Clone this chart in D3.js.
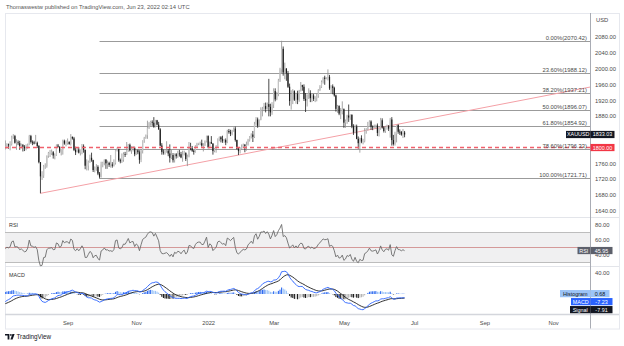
<!DOCTYPE html>
<html>
<head>
<meta charset="utf-8">
<script src="https://cdn.jsdelivr.net/npm/d3@7"></script>
<style>
  body { margin: 0; background: #fff; }
  svg { display: block; }
  text { font-family: "Liberation Sans", Arial, sans-serif; }
</style>
</head>
<body>
<svg id="chart" width="624" height="346"></svg>
<script>
// XAUUSD daily, one row per trading week (Mon..Fri). Rows start on this Monday.
const firstMonday = "2021-05-03";

// Daily closes (first rows feed the indicators only)
const closeWeeks = [
  [1792,1779,1784,1815,1831], // May 3 2021
  [1836,1836,1815,1826,1843],
  [1867,1869,1881,1877,1881],
  [1882,1898,1896,1896,1903],
  [1906,1903,1908,1871,1891],
  [1899,1893,1888,1899,1877],
  [1866,1859,1812,1774,1764],
  [1783,1778,1779,1776,1781],
  [1780,1761,1770,1777,1787],
  [1792,1796,1803,1803,1808], // Jul 5
  [1806,1809,1826,1829,1812],
  [1813,1811,1804,1806,1802],
  [1798,1799,1806,1829,1814],
  [1813,1810,1812,1804,1763], // Aug 2
  [1727,1729,1752,1753,1779],
  [1786,1786,1788,1780,1781],
  [1805,1802,1790,1794,1817],
  [1810,1814,1814,1809,1827], // Aug 30
  [1823,1794,1788,1795,1787],
  [1794,1804,1794,1754,1754],
  [1764,1774,1768,1743,1750],
  [1751,1734,1726,1757,1761], // Sep 27
  [1769,1760,1761,1756,1757],
  [1754,1760,1793,1796,1768],
  [1765,1769,1783,1782,1793],
  [1807,1793,1798,1799,1783], // Oct 25
  [1793,1788,1769,1792,1818],
  [1825,1831,1849,1862,1865],
  [1863,1853,1869,1858,1846],
  [1805,1789,1788,1790,1792], // Nov 22
  [1785,1774,1781,1768,1783],
  [1778,1785,1783,1775,1782],
  [1786,1771,1777,1799,1798],
  [1792,1789,1802,1809,1811],
  [1811,1805,1805,1815,1829], // Dec 27
  [1801,1814,1810,1791,1797], // Jan 3 2022
  [1802,1822,1826,1821,1817],
  [1819,1813,1842,1839,1835],
  [1842,1848,1819,1797,1791],
  [1797,1801,1807,1804,1807], // Jan 31
  [1820,1826,1833,1827,1859],
  [1871,1855,1870,1898,1898],
  [1905,1898,1910,1903,1889],
  [1909,1943,1922,1936,1970], // Feb 28
  [1998,2050,1990,2000,1988],
  [1954,1918,1929,1943,1921],
  [1936,1921,1944,1958,1954],
  [1923,1919,1933,1937,1925], // Mar 28
  [1932,1923,1925,1931,1946],
  [1954,1966,1977,1974,1975],
  [1979,1950,1955,1951,1932],
  [1898,1905,1886,1888,1897], // Apr 25
  [1863,1868,1881,1876,1883],
  [1854,1838,1853,1822,1811],
  [1824,1815,1816,1842,1846],
  [1854,1866,1853,1851,1853],
  [1856,1837,1848,1869,1851], // May 30
  [1842,1852,1854,1848,1871],
  [1819,1809,1835,1857,1840],
  [1839,1833,1838,1833.03,null] // Jun 20
];

// Daily highs / lows of the drawn candles, rows start on this Monday
const candleMonday = "2021-07-05";
const highWeeks = [
  [null,null,null,1818,1811],
  [1810,1816,1830,1834,1832],
  [1821,1818,1817,1810,1809],
  [1806,1808,1810,1832,1832],
  [1818,1817,1832,1815,1806],
  [1763,1740,1756,1760,1780],
  [1789,1794,1795,1791,1785],
  [1808,1809,1803,1796,1820],
  [1820,1818,1823,1816,1834],
  [1828,1827,1802,1800,1801],
  [1795,1809,1808,1795,1770],
  [1767,1782,1787,1769,1752],
  [1758,1755,1738,1764,1764],
  [1770,1771,1767,1764,1781],
  [1763,1770,1796,1800,1797],
  [1772,1785,1788,1789,1814],
  [1809,1810,1803,1804,1802],
  [1796,1795,1793,1796,1818],
  [1827,1833,1868,1865,1868],
  [1869,1877,1870,1870,1865],
  [1849,1811,1795,1794,1816],
  [1796,1808,1794,1786,1785],
  [1786,1792,1794,1789,1792],
  [1792,1788,1782,1814,1812],
  [1804,1794,1806,1812,1812],
  [1815,1820,1811,1818,1830],
  [1831,1815,1829,1811,1799],
  [1806,1823,1828,1829,1830],
  [1822,1823,1845,1847,1845],
  [1845,1851,1853,1820,1800],
  [1801,1808,1810,1809,1815],
  [1822,1829,1836,1842,1865],
  [1877,1876,1871,1902,1903],
  [1913,1914,1914,1974,1911],
  [1915,1950,1950,1941,1974],
  [2002,2070.42,2056,2015,2001],
  [1994,1962,1945,1948,1945],
  [1939,1944,1946,1966,1959],
  [1960,1938,1935,1950,1945],
  [1937,1936,1930,1937,1948],
  [1958,1970,1978,1982,1978],
  [1998,1984,1958,1960,1954],
  [1934,1908,1907,1900,1917],
  [1899,1871,1883,1909,1884],
  [1884,1859,1858,1858,1828],
  [1825,1831,1822,1849,1849],
  [1865,1869,1869,1856,1858],
  [1858,1861,1850,1875,1874],
  [1854,1855,1858,1857,1875],
  [1877,1832,1840,1857,1859],
  [1846,1842,1847,1842,null]
];
const lowWeeks = [
  [null,null,null,1795,1797],
  [1797,1793,1805,1822,1810],
  [1794,1806,1794,1798,1790],
  [1791,1793,1797,1806,1810],
  [1806,1808,1809,1799,1760],
  [1684,1718,1723,1746,1749],
  [1774,1776,1781,1772,1770],
  [1779,1800,1786,1780,1782],
  [1807,1803,1807,1807,1805],
  [1820,1791,1781,1788,1785],
  [1780,1783,1787,1745,1742],
  [1742,1761,1764,1738,1737],
  [1741,1730,1721.71,1724,1750],
  [1755,1746,1746,1751,1749],
  [1749,1752,1757,1790,1764],
  [1760,1761,1764,1776,1781],
  [1789,1790,1784,1790,1778],
  [1781,1783,1759,1763,1785],
  [1812,1822,1822,1847,1855],
  [1855,1850,1851,1856,1845],
  [1803,1782,1782,1782,1787],
  [1778,1762,1771,1762,1762],
  [1772,1774,1777,1773,1764],
  [1780,1766,1753,1775,1793],
  [1789,1782,1787,1801,1806],
  [1806,1802,1790,1804,1813],
  [1798,1798,1809,1782,1788],
  [1787,1800,1816,1813,1812],
  [1812,1806,1811,1835,1829],
  [1831,1840,1815,1795,1781],
  [1785,1796,1799,1788,1792],
  [1805,1815,1823,1814,1824],
  [1855,1850,1852,1869,1879],
  [1892,1889,1896,1879,1879],
  [1883,1900,1917,1920,1930],
  [1966,1989,1982,1973,1969],
  [1951,1906,1896,1910,1918],
  [1911,1910,1916,1942,1944],
  [1918,1890,1904,1923,1915],
  [1915,1918,1915,1917,1926],
  [1943,1951,1962,1959,1973],
  [1970,1946,1938,1935,1929],
  [1891,1888,1882,1872,1884],
  [1850,1850,1860,1865,1870],
  [1849,1832,1836,1821,1797],
  [1787,1811,1808,1813,1835],
  [1843,1852,1845,1844,1849],
  [1849,1829,1828,1845,1848],
  [1838,1837,1845,1842,1825],
  [1805,1805,1805,1813,1835],
  [1832,1830,1824,1826,null]
];

// Fibonacci retracement (Sep 29 2021 low -> Mar 8 2022 high)
const fibStartDate = "2021-09-29";
const fibPercents = ["0.00%", "23.60%", "38.20%", "50.00%", "61.80%", "78.60%", "100.00%"];
const fibPrices = [2070.42, 1988.12, 1937.21, 1896.07, 1854.92, 1796.33, 1721.71];

// Rising trendline through two lows, and the 1800 level
const trendDates = ["2021-08-09", "2022-01-28"];
const trendPrices = [1684, 1781];
const supportLevel = 1800;

// Axis ticks
const priceTicks = [2080, 2040, 2000, 1960, 1920, 1880, 1840, 1800, 1760, 1720, 1680, 1640];
const rsiTicks = [80, 60, 40];
const macdTicks = [40];
const monthStarts = ["2021-09", "2021-11", "2022-01", "2022-03", "2022-05", "2022-07", "2022-09", "2022-11"];
const monthLabels = ["Sep", "Nov", "2022", "Mar", "May", "Jul", "Sep", "Nov"];

// Last values shown on the scale
const lastPrice = 1833.03;
const lastRsi = 45.95;
const lastHist = 0.68, lastMacd = -7.23, lastSignal = -7.91;
const firstDrawn = "2021-07-08";

// ---------- helpers ----------
const parse = d3.timeParse("%Y-%m-%d");
const base = parse(firstMonday);
function barIndex(date) {
  const t = d3.timeDay.count(base, date);
  return Math.floor(t / 7) * 5 + (t % 7);
}
function firstWeekday(ym) {
  const d = parse(ym + "-01");
  while (d.getDay() === 0 || d.getDay() === 6) d.setDate(d.getDate() + 1);
  return d;
}

// flatten into bars
const bars = [];
closeWeeks.forEach((wk, w) => wk.forEach((c, d) => {
  if (c != null) bars.push({ i: w * 5 + d, c });
}));
const candleOffset = barIndex(parse(candleMonday));
highWeeks.forEach((wk, w) => wk.forEach((h, d) => {
  const i = candleOffset + w * 5 + d;
  if (h != null && bars[i]) { bars[i].h = h; bars[i].l = lowWeeks[w][d]; }
}));
bars.forEach((b, k) => { b.o = k > 0 ? bars[k - 1].c : b.c; });
const closes = bars.map(b => b.c);

// RSI 14 (Wilder)
const rsiVals = new Array(closes.length).fill(null);
{
  const n = 14; let up = 0, dn = 0;
  for (let k = 1; k <= n; k++) { const ch = closes[k] - closes[k - 1]; up += Math.max(ch, 0); dn += Math.max(-ch, 0); }
  up /= n; dn /= n;
  rsiVals[n] = 100 - 100 / (1 + up / dn);
  for (let k = n + 1; k < closes.length; k++) {
    const ch = closes[k] - closes[k - 1];
    up = (up * (n - 1) + Math.max(ch, 0)) / n;
    dn = (dn * (n - 1) + Math.max(-ch, 0)) / n;
    rsiVals[k] = dn === 0 ? 100 : 100 - 100 / (1 + up / dn);
  }
}
// MACD 12/26/9
function ema(arr, n) {
  const a = 2 / (n + 1), out = [];
  arr.forEach((v, k) => out.push(k === 0 ? v : a * v + (1 - a) * out[k - 1]));
  return out;
}
const e12 = ema(closes, 12), e26 = ema(closes, 26);
const macdVals = e12.map((v, k) => v - e26[k]);
const sigVals = ema(macdVals, 9);
const histVals = macdVals.map((v, k) => v - sigVals[k]);

// ---------- layout ----------
const L = 5, R = 590, RE = 619;
const mainTop = 13, mainBot = 217.5, rsiTop = 217.5, rsiBot = 266.5, macdTop = 266.5, macdBot = 314.5, axisBot = 328.5;

const iSep = barIndex(firstWeekday("2021-09"));
const iNov = barIndex(firstWeekday("2022-11"));
const x = d3.scaleLinear().domain([iSep, iNov]).range([67.6, 553.1]);
const y = d3.scaleLinear().domain([2080, 1640]).range([37, 210.7]);
const yR = d3.scaleLinear().domain([80, 40]).range([225, 255]);
const yM = d3.scaleLinear().domain([40, 0]).range([273, 294]);

const startIdx = barIndex(parse(firstDrawn));
const shown = bars.filter(b => b.i >= startIdx);

const svg = d3.select("#chart");
const defs = svg.append("defs");
function clip(id, y0, y1) {
  defs.append("clipPath").attr("id", id).append("rect").attr("x", L).attr("y", y0).attr("width", R - L).attr("height", y1 - y0);
  return "url(#" + id + ")";
}
const clipMain = clip("cm", mainTop, mainBot), clipRsi = clip("cr", rsiTop, rsiBot), clipMacd = clip("cx", macdTop, macdBot);

// header
svg.append("text").attr("x", 6).attr("y", 9.3).attr("font-size", 5.8).attr("fill", "#555")
  .text("Thomaswestw published on TradingView.com, Jun 23, 2022 02:14 UTC");

// frame and pane separators
svg.append("rect").attr("x", L + 0.5).attr("y", mainTop + 0.5).attr("width", RE - L).attr("height", axisBot - mainTop)
  .attr("fill", "none").attr("stroke", "#e6e8ee");
[rsiTop, macdTop].forEach(v => svg.append("line").attr("x1", L).attr("x2", RE).attr("y1", v).attr("y2", v).attr("stroke", "#e3e5ea"));
svg.append("line").attr("x1", L).attr("x2", RE).attr("y1", macdBot).attr("y2", macdBot).attr("stroke", "#d4d6dc").attr("stroke-width", 1.5);
svg.append("line").attr("x1", R + 0.5).attr("x2", R + 0.5).attr("y1", mainTop).attr("y2", axisBot).attr("stroke", "#a9acb4");

// ---------- main pane ----------
const gMain = svg.append("g").attr("clip-path", clipMain);

// fib levels
const fibX0 = x(barIndex(parse(fibStartDate)));
gMain.selectAll("line.fib").data(fibPrices).join("line").attr("class", "fib")
  .attr("x1", fibX0).attr("x2", R).attr("y1", d => Math.round(y(d)) + 0.5).attr("y2", d => Math.round(y(d)) + 0.5)
  .attr("stroke", "#9b9b9b").attr("stroke-width", 1);

// trendline extended to the price scale
{
  const i0 = barIndex(parse(trendDates[0])), i1 = barIndex(parse(trendDates[1]));
  const slope = (trendPrices[1] - trendPrices[0]) / (i1 - i0);
  const iEnd = x.invert(R);
  gMain.append("line").attr("x1", x(i0)).attr("y1", y(trendPrices[0]))
    .attr("x2", x(iEnd)).attr("y2", y(trendPrices[0] + slope * (iEnd - i0)))
    .attr("stroke", "#f4a0a6").attr("stroke-width", 1);
}

// candles
const up = b => b.c >= b.o;
const gC = gMain.append("g");
gC.selectAll("line").data(shown.filter(b => b.h != null)).join("line")
  .attr("x1", b => x(b.i)).attr("x2", b => x(b.i))
  .attr("y1", b => y(b.h)).attr("y2", b => y(b.l))
  .attr("stroke", b => up(b) ? "#8e8e8e" : "#1c1c1c").attr("stroke-width", 0.8);
gC.selectAll("rect").data(shown.filter(b => b.h != null)).join("rect")
  .attr("x", b => x(b.i) - 0.6).attr("width", 1.2)
  .attr("y", b => y(Math.max(b.o, b.c)))
  .attr("height", b => Math.max(0.7, Math.abs(y(b.o) - y(b.c))))
  .attr("fill", b => up(b) ? "#c4c4c4" : "#1c1c1c");

// 1800 level
gMain.append("line").attr("x1", L).attr("x2", R).attr("y1", y(supportLevel)).attr("y2", y(supportLevel))
  .attr("stroke", "#f0606c").attr("stroke-width", 1.6).attr("stroke-dasharray", "4,3");

// fib labels
svg.selectAll("text.fibl").data(fibPrices).join("text").attr("class", "fibl")
  .attr("x", 587).attr("y", d => Math.round(y(d)) - 1.2).attr("text-anchor", "end")
  .attr("font-size", 5.8).attr("fill", "#4a4a4a")
  .text((d, k) => fibPercents[k] + "(" + d.toFixed(2) + ")");

// price scale: labels hidden where a value badge sits on top of them
const badgePrices = [lastPrice, supportLevel];
const freeTicks = priceTicks.filter(t => badgePrices.every(p => Math.abs(y(t) - y(p)) > 7));
const axP = svg.append("g").attr("transform", `translate(${R},0)`)
  .call(d3.axisRight(y).tickValues(freeTicks).tickSize(0).tickPadding(5).tickFormat(d3.format(".2f")));
axP.select(".domain").remove();
axP.selectAll("text").attr("font-size", 5.8).attr("fill", "#4a4a4a").attr("font-family", "Liberation Sans, Arial, sans-serif");
svg.append("text").attr("x", 596).attr("y", 21.5).attr("font-size", 5.8).attr("fill", "#4a4a4a").text("USD");

// scale badges
function badge(x0, w, yc, fill, txt, col) {
  svg.append("rect").attr("x", x0).attr("y", yc - 3.6).attr("width", w).attr("height", 7.2).attr("fill", fill);
  svg.append("text").attr("x", x0 + w / 2).attr("y", yc + 2).attr("text-anchor", "middle")
    .attr("font-size", 5.4).attr("fill", col).text(txt);
}
badge(566, 24.5, y(lastPrice), "#131722", "XAUUSD", "#fff");
badge(590.5, 24, y(lastPrice), "#131722", lastPrice.toFixed(2), "#fff");
badge(590.5, 24, y(supportLevel), "#f23645", supportLevel.toFixed(2), "#fff");

// ---------- RSI pane ----------
const gR = svg.append("g").attr("clip-path", clipRsi);
gR.append("rect").attr("x", L).attr("width", R - L).attr("y", yR(70)).attr("height", yR(30) - yR(70)).attr("fill", "#f0f0f1");
[70, 30].forEach(v => gR.append("line").attr("x1", L).attr("x2", R).attr("y1", yR(v)).attr("y2", yR(v)).attr("stroke", "#bdbdbd"));
gR.append("line").attr("x1", L).attr("x2", R).attr("y1", yR(50)).attr("y2", yR(50)).attr("stroke", "#d08f8f").attr("stroke-width", 0.9);
gR.append("path").datum(shown.filter(b => rsiVals[b.i] != null))
  .attr("d", d3.line().x(b => x(b.i)).y(b => yR(rsiVals[b.i])))
  .attr("fill", "none").attr("stroke", "#6c6c6c").attr("stroke-width", 0.9);
svg.append("text").attr("x", 9).attr("y", 227).attr("font-size", 5.4).attr("fill", "#333").text("RSI");
const axR = svg.append("g").attr("transform", `translate(${R},0)`)
  .call(d3.axisRight(yR).tickValues(rsiTicks).tickSize(0).tickPadding(5).tickFormat(d3.format(".2f")));
axR.select(".domain").remove();
axR.selectAll("text").attr("font-size", 5.8).attr("fill", "#4a4a4a").attr("font-family", "Liberation Sans, Arial, sans-serif");
badge(577.5, 12.5, yR(lastRsi), "#5d606b", "RSI", "#fff");
badge(590.5, 22, yR(lastRsi), "#5d606b", lastRsi.toFixed(2), "#fff");

// ---------- MACD pane ----------
const gM = svg.append("g").attr("clip-path", clipMacd);
const histColor = b => {
  const h = histVals[b.i], p = histVals[b.i - 1];
  return h >= 0 ? (h > p ? "#2f6bf0" : "#9cc4f7") : (h < p ? "#1c1c1c" : "#b5b5b5");
};
gM.selectAll("rect").data(shown).join("rect")
  .attr("x", b => x(b.i) - 0.55).attr("width", 1.1)
  .attr("y", b => Math.min(yM(0), yM(histVals[b.i])))
  .attr("height", b => Math.abs(yM(histVals[b.i]) - yM(0)))
  .attr("fill", histColor);
gM.append("path").datum(shown).attr("d", d3.line().x(b => x(b.i)).y(b => yM(sigVals[b.i])))
  .attr("fill", "none").attr("stroke", "#1c1c1c").attr("stroke-width", 0.9);
gM.append("path").datum(shown).attr("d", d3.line().x(b => x(b.i)).y(b => yM(macdVals[b.i])))
  .attr("fill", "none").attr("stroke", "#2962ff").attr("stroke-width", 0.9);
svg.append("text").attr("x", 9).attr("y", 276.5).attr("font-size", 5.4).attr("fill", "#333").text("MACD");
const axM = svg.append("g").attr("transform", `translate(${R},0)`)
  .call(d3.axisRight(yM).tickValues(macdTicks).tickSize(0).tickPadding(5).tickFormat(d3.format(".2f")));
axM.select(".domain").remove();
axM.selectAll("text").attr("font-size", 5.8).attr("fill", "#4a4a4a").attr("font-family", "Liberation Sans, Arial, sans-serif");
{
  const yh = yM(lastHist);
  const ym = Math.max(yM(lastMacd), yh + 8);
  const ys = Math.max(yM(lastSignal), ym + 8);
  badge(560, 30.5, yh, "#9cc4f7", "Histogram", "#131722");
  badge(590.5, 19, yh, "#9cc4f7", lastHist.toFixed(2), "#131722");
  badge(571, 19.5, ym, "#2962ff", "MACD", "#fff");
  badge(590.5, 22, ym, "#2962ff", lastMacd.toFixed(2), "#fff");
  badge(570, 20.5, ys, "#131722", "Signal", "#fff");
  badge(590.5, 22, ys, "#131722", lastSignal.toFixed(2), "#fff");
}

// ---------- time axis ----------
const tickIdx = monthStarts.map(m => barIndex(firstWeekday(m)));
const axT = svg.append("g").attr("transform", `translate(0,${macdBot + 2})`)
  .call(d3.axisBottom(x).tickValues(tickIdx).tickSize(0).tickPadding(4).tickFormat((d, k) => monthLabels[k]));
axT.select(".domain").remove();
axT.selectAll("text").attr("font-size", 5.8).attr("fill", "#4a4a4a").attr("font-family", "Liberation Sans, Arial, sans-serif");

// ---------- footer logo ----------
const logo = svg.append("g").attr("transform", "translate(5,334)").attr("fill", "#131722");
logo.append("path").attr("d", "M0,0H4.4V5.4H2.6V1.6H0Z");
logo.append("circle").attr("cx", 5.9).attr("cy", 0.9).attr("r", 0.9);
logo.append("path").attr("d", "M7.4,0H9.6L7.6,5.4H5.4Z");
svg.append("text").attr("x", 16.5).attr("y", 339.4).attr("font-size", 6.3).attr("fill", "#131722").text("TradingView");
</script>
</body>
</html>
